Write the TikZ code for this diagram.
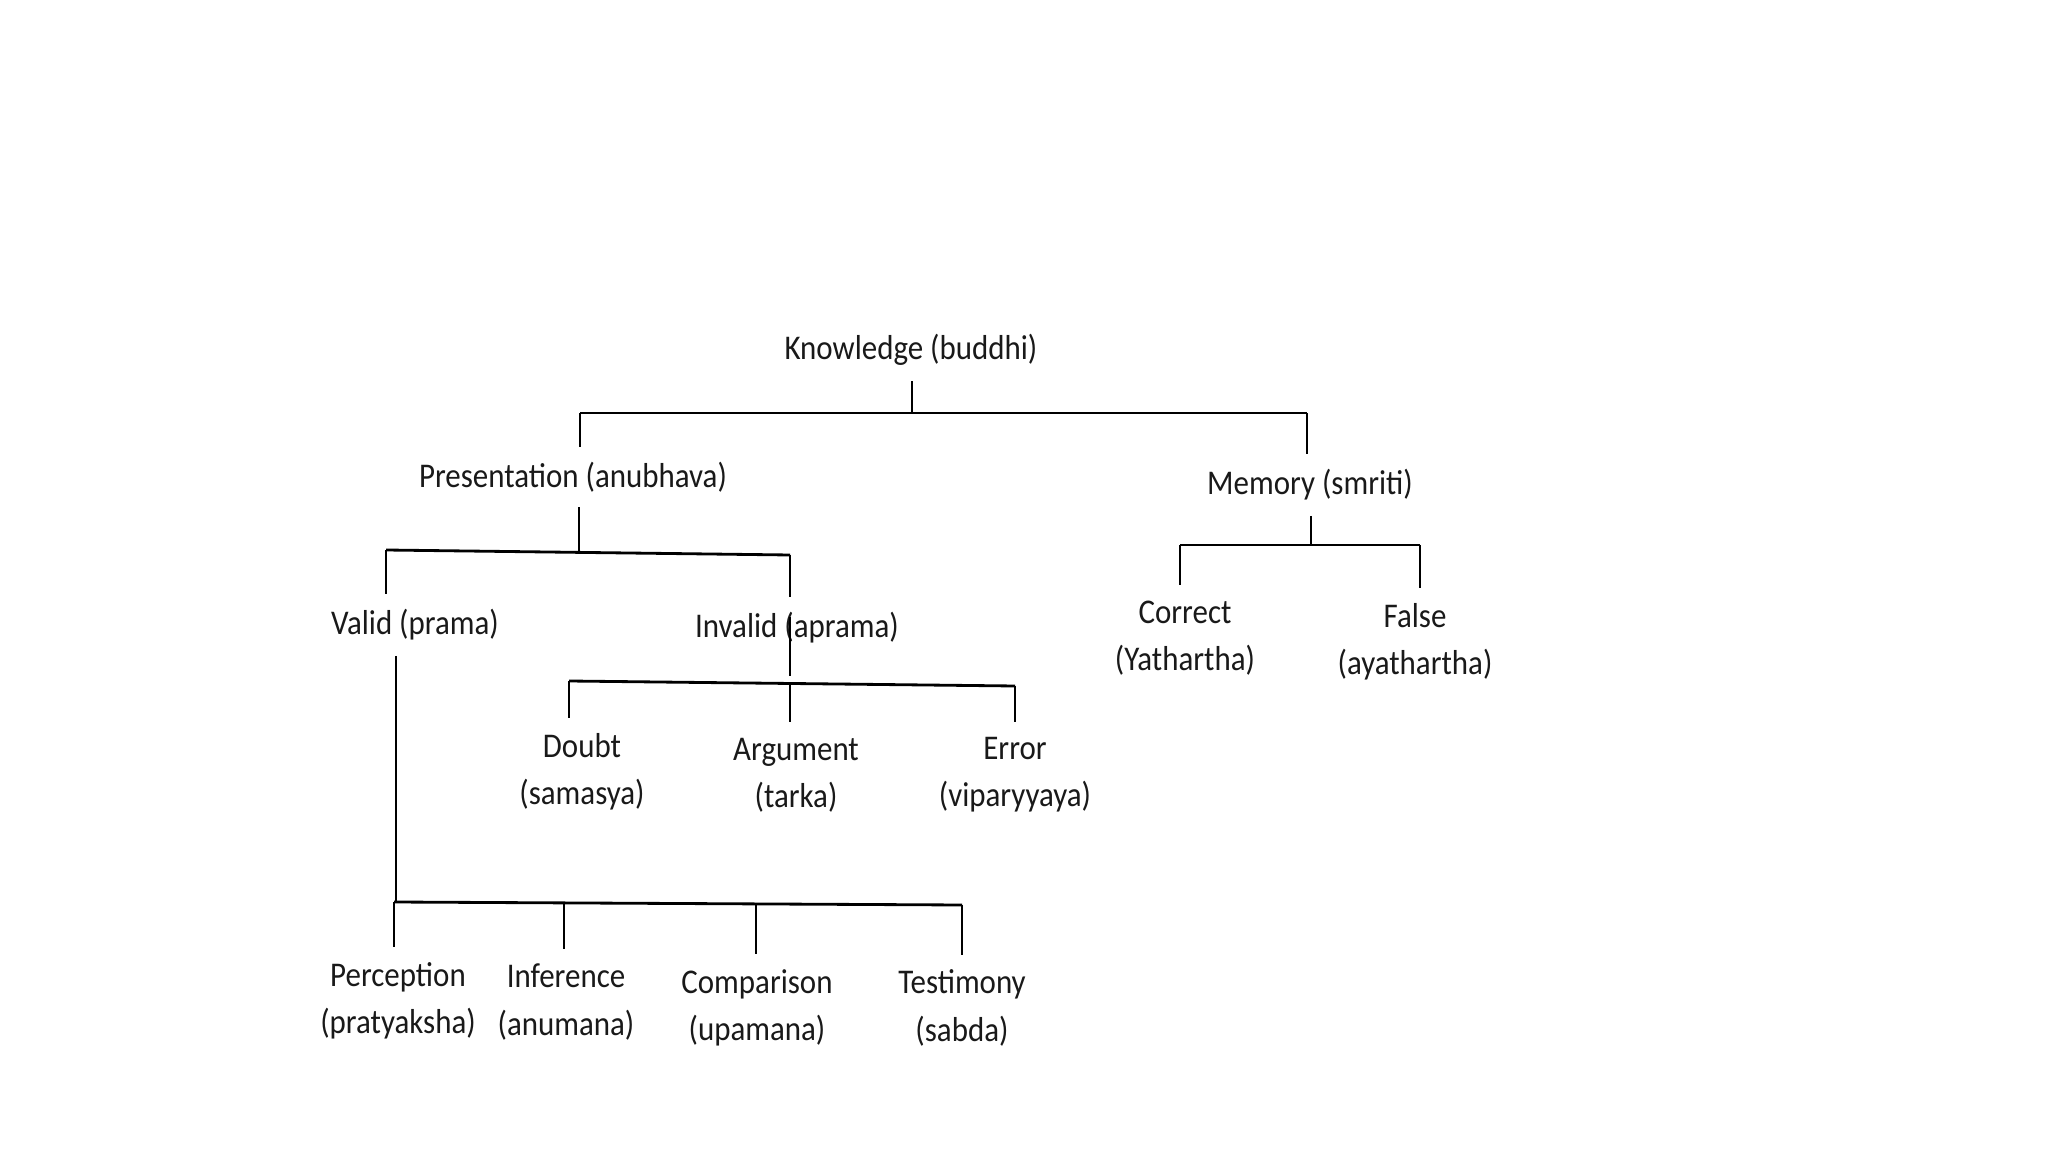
\documentclass[tikz,border=0pt]{standalone}
\usepackage{fontspec}
\setmainfont{Carlito}
\begin{document}
\begin{tikzpicture}[x=0.01cm,y=-0.01cm,line width=0.8pt,
    lbl/.style={font=\fontsize{8.8}{12}\selectfont,align=center,inner sep=3.5pt,text=black!90,yscale=1.12,transform shape}]
  \useasboundingbox (0,0) rectangle (2048,1152);
      \node[lbl] (K) at (911,350) {Knowledge (buddhi)};
      \node[lbl] (P) at (573,477) {Presentation (anubhava)};
      \node[lbl] (M) at (1310,485) {Memory (smriti)};
      \node[lbl] (V) at (415,625) {Valid (prama)};
      \node[lbl] (I) at (797,628) {Invalid (aprama)};
      \node[lbl] (C) at (1185,638) {Correct\\(Yathartha)};
      \node[lbl] (F) at (1415,642) {False\\(ayathartha)};
      \node[lbl] (D) at (582,772) {Doubt\\(samasya)};
      \node[lbl] (A) at (796,775) {Argument\\(tarka)};
      \node[lbl] (E) at (1015,775) {Error\\(viparyyaya)};
      \node[lbl] (Pe) at (398,1001) {Perception\\(pratyaksha)};
      \node[lbl] (In) at (566,1002) {Inference\\(anumana)};
      \node[lbl] (Co) at (757,1008) {Comparison\\(upamana)};
      \node[lbl] (Te) at (962,1008) {Testimony\\(sabda)};
        % bars
     \coordinate (kj) at (912,413);
     \coordinate (kl) at (580,413);
     \coordinate (kr) at (1307,413);
     \coordinate (pj) at (579,552);
     \coordinate (pl) at (386,550);
     \coordinate (pr) at (790,555);
     \coordinate (mj) at (1311,545);
     \coordinate (ml) at (1180,545);
     \coordinate (mr) at (1420,545);
     \coordinate (ij) at (790,683);
     \coordinate (il) at (569,681);
     \coordinate (ir) at (1015,686);
     \coordinate (vj) at (396,902);
     \coordinate (vl) at (394,902);
     \coordinate (v2) at (564,903);
     \coordinate (v3) at (756,904);
     \coordinate (vr) at (962,905);
        % Knowledge
      \draw (K.south -| kj) -- (kj);
      \draw (kl) -- (kr);
      \draw (kl) -- (kl |- P.north);
      \draw (kr) -- (kr |- M.north);
        % Presentation
      \draw (P.south -| pj) -- (pj);
      \draw (pl) -- (pr);
      \draw (pl) -- (pl |- V.north);
      \draw (pr) -- (pr |- I.north);
        % Memory
      \draw (M.south -| mj) -- (mj);
      \draw (ml) -- (mr);
      \draw (ml) -- (ml |- C.north);
      \draw (mr) -- (mr |- F.north);
        % Invalid
      \draw ([yshift=3pt]I.center -| ij) -- ([yshift=2pt]ij);
      \draw (il) -- (ir);
      \draw (il) -- (il |- D.north);
      \draw (ij) -- (ij |- A.north);
      \draw (ir) -- (ir |- E.north);
        % Valid
      \draw (V.south -| vj) -- (vj);
      \draw (vl) -- (vr);
      \draw (vl) -- (vl |- Pe.north);
      \draw (v2) -- (v2 |- In.north);
      \draw (v3) -- (v3 |- Co.north);
      \draw (vr) -- (vr |- Te.north);
\end{tikzpicture}
\end{document}
